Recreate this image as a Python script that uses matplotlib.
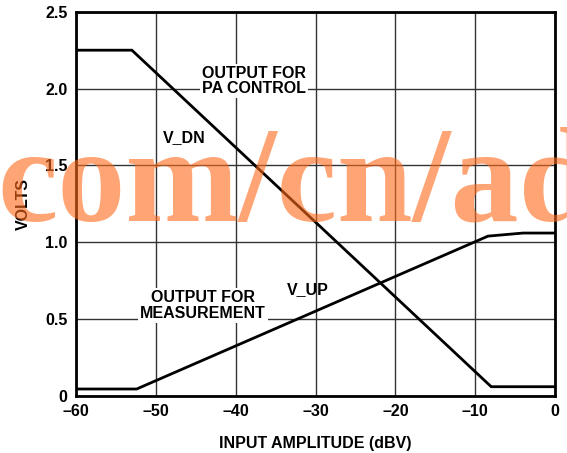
import matplotlib.pyplot as plt

# input amplitude (dBV) and output volts
vdn_x = [-60, -53, -8, 0]
vdn_y = [2.25, 2.25, 0.06, 0.06]
vup_x = [-60, -52.4, -8.4, -4, 0]
vup_y = [0.045, 0.045, 1.04, 1.06, 1.06]

xticks = [-60, -50, -40, -30, -20, -10, 0]
xticklabels = ["\u201360", "\u201350", "\u201340", "\u201330", "\u201320", "\u201310", "0"]
yticks = [0, 0.5, 1.0, 1.5, 2.0, 2.5]
yticklabels = ["0", "0.5", "1.0", "1.5", "2.0", "2.5"]

plt.rcParams['font.family'] = ['Liberation Sans', 'DejaVu Sans']
plt.rcParams['font.weight'] = 'bold'
fs = 11.5

fig = plt.figure(figsize=(5.67, 4.53), dpi=100)
ax = fig.add_axes([0.134, 0.126, 0.845, 0.848])

ax.plot(vdn_x, vdn_y, color='black', lw=2, solid_joinstyle='miter', zorder=3)
ax.plot(vup_x, vup_y, color='black', lw=2, solid_joinstyle='miter', zorder=3)

ax.set_xlim(-60, 0)
ax.set_ylim(0, 2.5)
ax.set_xticks(xticks, xticklabels, fontsize=fs, fontweight='bold')
ax.set_yticks(yticks, yticklabels, fontsize=fs, fontweight='bold')
ax.tick_params(length=0, pad=6)
ax.grid(color='#333333', lw=1)
for s in ax.spines.values():
    s.set_linewidth(2)

ax.set_xlabel("INPUT AMPLITUDE (dBV)", fontsize=fs, fontweight='bold', labelpad=12)
ax.set_ylabel("VOLTS", fontsize=fs, fontweight='bold', labelpad=10)

box = dict(facecolor='white', edgecolor='none', pad=1.5)
ax.text(-37.7, 2.05, "OUTPUT FOR\nPA CONTROL", ha='center', va='center',
        fontsize=fs, fontweight='bold', bbox=box, linespacing=1.05, zorder=4)
ax.text(-46.4, 1.68, "V_DN", ha='center', va='center', fontsize=fs, fontweight='bold', zorder=4)
ax.text(-44.1, 0.59, "OUTPUT FOR\nMEASUREMENT", ha='center', va='center',
        fontsize=fs, fontweight='bold', bbox=box, linespacing=1.05, zorder=4)
ax.text(-31, 0.69, "V_UP", ha='center', va='center', fontsize=fs, fontweight='bold', zorder=4)

# watermark
fig.text(-0.004, 1 - 220 / 453, "com/cn/ad", fontsize=98, fontweight='bold',
         family='Liberation Serif', color='#ff6a1a', alpha=0.6, ha='left', va='baseline', zorder=10)

plt.savefig("out.png", dpi=100)
